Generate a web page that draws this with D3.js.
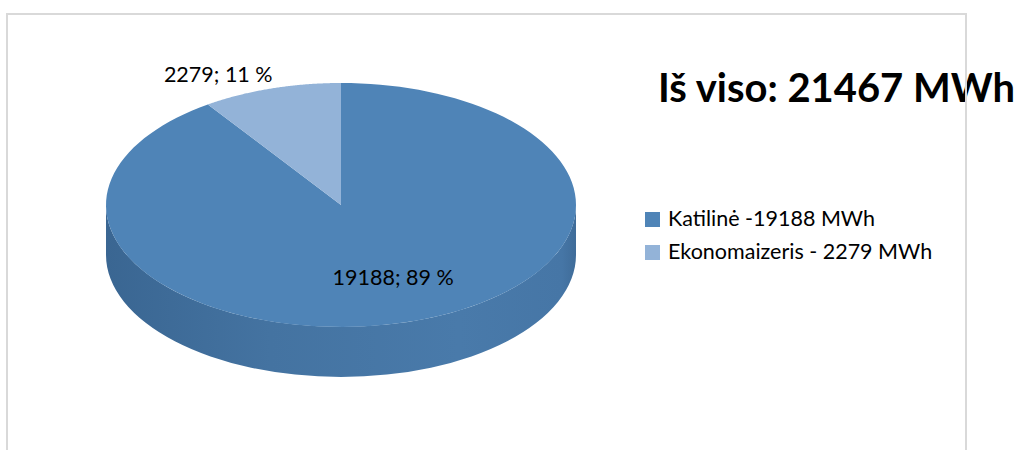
<!DOCTYPE html>
<html>
<head>
<meta charset="utf-8">
<script src="https://cdn.jsdelivr.net/npm/d3@7"></script>
<style>
	body { margin: 0; background: #fff; }
	svg { display: block; font-family: Lato, "Open Sans", sans-serif; }
</style>
</head>
<body>
<svg id="chart" width="1020" height="450"></svg>
<script>
var categories = ['Katilinė -19188 MWh', 'Ekonomaizeris - 2279 MWh'];
var values = [19188, 2279];
var labels = ['19188; 89 %', '2279; 11 %'];
var colors = ['#4f84b7', '#93b3d8'];
var title = 'Iš viso: 21467 MWh';

var svg = d3.select('#chart');

// pie geometry (top face ellipse)
var cx = 341, cy = 205, rx = 235, ry = 122, depth = 50;
// small perspective warp of angles (back side looks compressed)
var persp = 0.114;

function proj(a, k) {
	var phi = Math.atan2(Math.sin(a), Math.cos(a) + persp);
	k = k || 1;
	return [cx + rx * k * Math.sin(phi), cy - ry * k * Math.cos(phi)];
}

var pie = d3.pie().sort(null).value(function(d) { return d; });
var arcs = pie(values);

var defs = svg.append('defs');
var grad = defs.append('linearGradient')
	.attr('id', 'side')
	.attr('x1', '0%').attr('x2', '100%').attr('y1', '0%').attr('y2', '0%');
grad.append('stop').attr('offset', '0%').attr('stop-color', '#3a6692');
grad.append('stop').attr('offset', '35%').attr('stop-color', '#4473a1');
grad.append('stop').attr('offset', '75%').attr('stop-color', '#497aaa');
grad.append('stop').attr('offset', '97%').attr('stop-color', '#4676a6');
grad.append('stop').attr('offset', '100%').attr('stop-color', '#3f6c99');

// side of the disc (front half, all in the big slice)
svg.append('path')
	.attr('d', 'M' + (cx + rx) + ',' + cy +
		' L' + (cx + rx) + ',' + (cy + depth) +
		' A' + rx + ',' + ry + ' 0 0 1 ' + (cx - rx) + ',' + (cy + depth) +
		' L' + (cx - rx) + ',' + cy +
		' A' + rx + ',' + ry + ' 0 0 0 ' + (cx + rx) + ',' + cy + ' Z')
	.attr('fill', 'url(#side)');

// top face slices
function slicePath(d) {
	var n = 120, pts = [[cx, cy]];
	for (var i = 0; i <= n; i++) {
		pts.push(proj(d.startAngle + (d.endAngle - d.startAngle) * i / n));
	}
	return 'M' + pts.map(function(p) { return p[0].toFixed(2) + ',' + p[1].toFixed(2); }).join('L') + 'Z';
}

svg.selectAll('.slice')
	.data(arcs)
	.enter().append('path')
	.attr('class', 'slice')
	.attr('d', slicePath)
	.attr('fill', function(d, i) { return colors[i]; });

// data labels
var labelPos = [
	{k: 0.64, anchor: 'middle', dx: -3, dy: 7},
	{k: 1.13, anchor: 'end', dx: 10, dy: 9}
];
svg.selectAll('.dlabel')
	.data(arcs)
	.enter().append('text')
	.attr('class', 'dlabel')
	.attr('x', function(d, i) { return proj((d.startAngle + d.endAngle) / 2, labelPos[i].k)[0] + labelPos[i].dx; })
	.attr('y', function(d, i) { return proj((d.startAngle + d.endAngle) / 2, labelPos[i].k)[1] + labelPos[i].dy; })
	.attr('text-anchor', function(d, i) { return labelPos[i].anchor; })
	.attr('font-size', 21.5)
	.attr('fill', '#000')
	.text(function(d, i) { return labels[i]; });

// title
svg.append('text')
	.attr('x', 658)
	.attr('y', 102)
	.attr('font-size', 40)
	.attr('font-weight', 'bold')
	.attr('fill', '#000')
	.attr('textLength', 357)
	.attr('lengthAdjust', 'spacingAndGlyphs')
	.text(title);

// legend
var legend = svg.selectAll('.legend')
	.data(categories)
	.enter().append('g')
	.attr('class', 'legend')
	.attr('transform', function(d, i) { return 'translate(645,' + (212 + i * 33) + ')'; });
legend.append('rect')
	.attr('width', 15).attr('height', 15)
	.attr('fill', function(d, i) { return colors[i]; });
legend.append('text')
	.attr('x', 23).attr('y', 14)
	.attr('font-size', 21.5)
	.attr('fill', '#000')
	.text(function(d) { return d; });

// chart frame
svg.append('rect')
	.attr('x', 7).attr('y', 14)
	.attr('width', 959).attr('height', 500)
	.attr('fill', 'none')
	.attr('stroke', '#d9d9d9')
	.attr('stroke-width', 2);
</script>
</body>
</html>
